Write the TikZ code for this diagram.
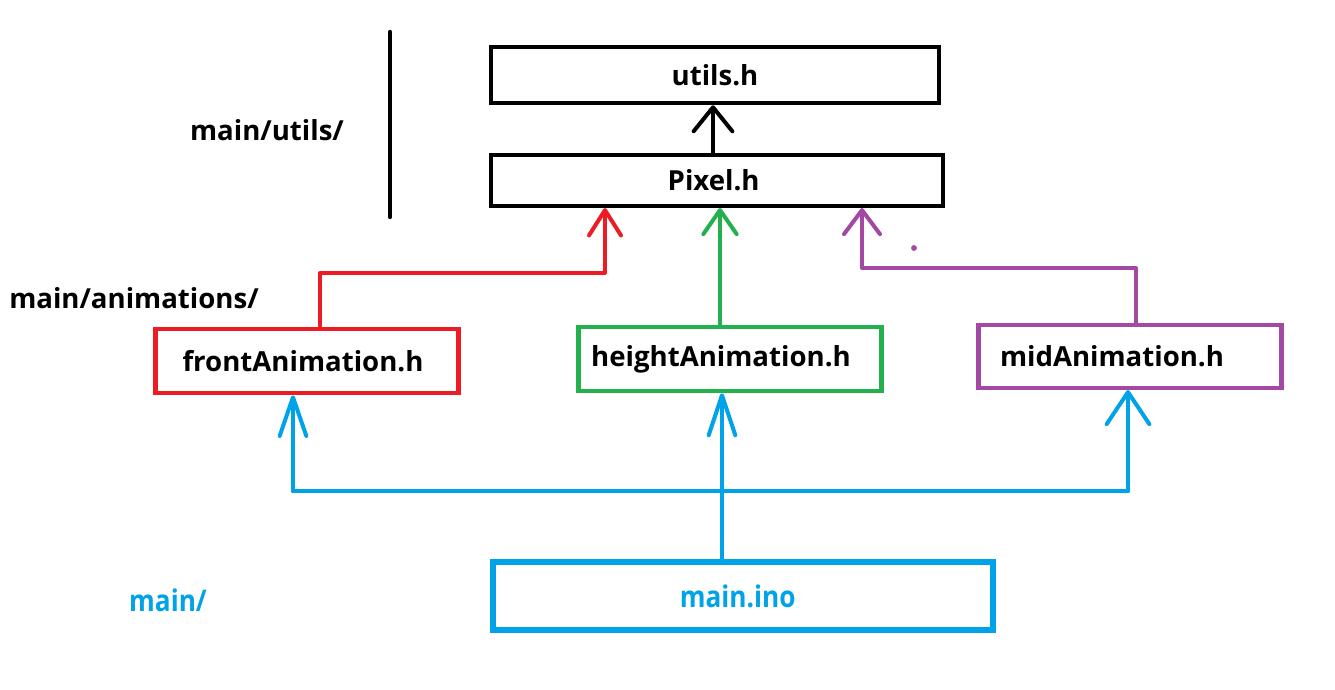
\documentclass[tikz,border=0pt]{standalone}
\usepackage{fontspec}
\setmainfont{Open Sans}
\usetikzlibrary{arrows.meta}

\definecolor{fred}{RGB}{237,28,36}
\definecolor{fgreen}{RGB}{34,177,76}
\definecolor{fpurple}{RGB}{163,73,164}
\definecolor{fblue}{RGB}{0,162,232}

\tikzset{
  file/.style={draw, line width=3.4pt, minimum width=#1, inner sep=0pt,
    font=\fontsize{20.7}{24}\selectfont\bfseries},
  link/.style={line width=3pt, line cap=round, line join=round},
  tip/.style 2 args={-{Straight Barb[length=#1pt, width=#2pt, round]}},
  folder/.style={font=\fontsize{20.7}{24}\selectfont\bfseries}
}

\begin{document}
\begin{tikzpicture}[x=0.75pt, y=-0.75pt]
  \useasboundingbox (0,0) rectangle (1335,689);

  % boxes
  \node[file=336pt, minimum height=42pt] (utils) at (715,75) {utils.h};
  \node[file=339pt, minimum height=38pt] (pixel) at (717,180.5) {\hspace*{-5pt}Pixel.h};
  \node[file=227pt, minimum height=48pt, fred, text=black] (front) at (307,361) {\hspace*{-6pt}frontAnimation.h};
  \node[file=227pt, minimum height=48pt, fgreen, text=black] (height) at (730,359) {\hspace*{-13.5pt}heightAnimation.h};
  \node[file=227pt, minimum height=47pt, fpurple, text=black] (mid) at (1130,356.5) {\hspace*{-27pt}midAnimation.h};
  \node[file=375pt, minimum height=51pt, fblue, line width=3.8pt] (mainino) at (743,596) {\hspace*{-8pt}\scalebox{0.95}[1.08]{main.ino}};

  % folders
  \node[folder] (dirutils) at (267,130) {main/utils/};
  \node[folder] (diranim) at (134,298) {main/animations/};
  \node[folder, fblue] (dirmain) at (168,600) {\scalebox{0.95}[1.08]{main/}};
  \coordinate (sepA) at (390,32);
  \coordinate (sepB) at (390,217);
  \draw[link, line width=3.3pt] (sepA) -- (sepB);

  % utils <- Pixel
  \draw[link, tip={18}{29}] (pixel.north -| 713,0) -- (utils.south -| 713,0);

  % animations -> Pixel
  \coordinate (redA) at (320,273);
  \coordinate (redB) at (605,273);
  \draw[link, fred, tip={19}{24}] (redA |- front.north) -- (redA) -- (redB) -- (redB |- pixel.south);
  \coordinate (greenA) at (720,300);
  \draw[link, fgreen, tip={18}{25}] (greenA |- height.north) -- (greenA |- pixel.south);
  \coordinate (purpleA) at (1136,268);
  \coordinate (purpleB) at (862,268);
  \draw[link, fpurple, tip={18}{27}] (purpleA |- mid.north) -- (purpleA) -- (purpleB) -- (purpleB |- pixel.south);
  \fill[fpurple] (914,248) circle (2.2pt);

  % main.ino -> animations
  \coordinate (busL) at (293,491);
  \coordinate (busR) at (1128,491);
  \coordinate (busM) at (722,491);
  \draw[link, fblue] (busL) -- (busR);
  \draw[link, fblue, tip={29}{20}] (busL) -- (busL |- front.south);
  \draw[link, fblue, tip={24}{32}] (busR) -- (busR |- mid.south);
  \draw[link, fblue, tip={30}{20}] (busM |- mainino.north) -- (busM |- height.south);
\end{tikzpicture}
\end{document}
